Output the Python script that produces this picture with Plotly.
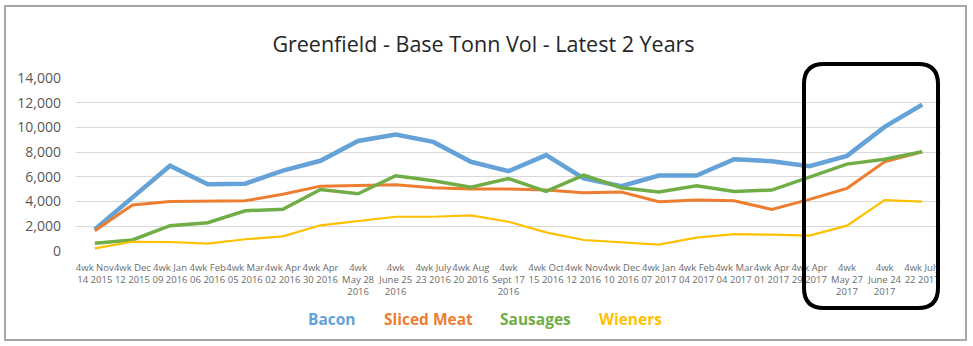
import plotly.graph_objects as go

# ---------------- data ----------------
periods = [
    "4wk Nov<br>14 2015", "4wk Dec<br>12 2015", "4wk Jan<br>09 2016", "4wk Feb<br>06 2016",
    "4wk Mar<br>05 2016", "4wk Apr<br>02 2016", "4wk Apr<br>30 2016", "4wk<br>May 28<br>2016",
    "4wk<br>June 25<br>2016", "4wk July<br>23 2016", "4wk Aug<br>20 2016", "4wk<br>Sept 17<br>2016",
    "4wk Oct<br>15 2016", "4wk Nov<br>12 2016", "4wk Dec<br>10 2016", "4wk Jan<br>07 2017",
    "4wk Feb<br>04 2017", "4wk Mar<br>04 2017", "4wk Apr<br>01 2017", "4wk Apr<br>29 2017",
    "4wk<br>May 27<br>2017", "4wk<br>June 24<br>2017", "4wk July<br>22 2017",
]

bacon = [1750, 4350, 6900, 5400, 5450, 6500, 7300, 8900, 9430, 8830, 7220, 6460,
         7760, 5870, 5250, 6110, 6110, 7430, 7270, 6870, 7700, 10040, 11850]
sliced_meat = [1640, 3720, 4010, 4010, 4060, 4600, 5250, 5300, 5360, 5120, 5010, 5010,
               4930, 4710, 4770, 3990, 4120, 4060, 3370, 4180, 5070, 7220, 8030]
sausages = [620, 890, 2050, 2290, 3260, 3370, 4980, 4630, 6090, 5680, 5170, 5870,
            4820, 6140, 5120, 4770, 5280, 4820, 4930, 6010, 7030, 7430, 8030]
wieners = [215, 750, 730, 590, 950, 1190, 2080, 2400, 2770, 2770, 2880, 2370,
           1510, 890, 700, 510, 1080, 1370, 1320, 1240, 2050, 4120, 3990]

series_names = ["Bacon", "Sliced Meat", "Sausages", "Wieners"]
y_ticks = [0, 2000, 4000, 6000, 8000, 10000, 12000, 14000]

# ---------------- styling ----------------
W, H = 973, 346
L, R, T, B = 76, 32, 78, 95
PW, PH = W - L - R, H - T - B
colors = ["#64A2D8", "#ED7D31", "#70AD47", "#FFC000"]
widths = [4.5, 3, 3.5, 2.2]
FONT = "Open Sans"


def px(x):
    return (x - L) / PW


def py(y):
    return (H - B - y) / PH


fig = go.Figure()
for name, vals, c, w in zip(series_names, [bacon, sliced_meat, sausages, wieners], colors, widths):
    fig.add_trace(go.Scatter(x=list(range(len(periods))), y=vals, name=name, mode="lines",
                             line=dict(color=c, width=w), showlegend=False))

fig.update_layout(
    width=W, height=H,
    margin=dict(l=L, r=R, t=T, b=B),
    paper_bgcolor="white", plot_bgcolor="white",
    font=dict(family=FONT, color="#595959"),
    title=dict(text="Greenfield - Base Tonn Vol - Latest 2 Years",
               x=483.5 / W, xref="container", xanchor="center",
               y=1 - 44 / H, yref="container", yanchor="middle",
               font=dict(family=FONT, size=21.5, color="#262626")),
)

fig.update_xaxes(
    range=[-0.5, len(periods) - 0.5],
    tickmode="array", tickvals=list(range(len(periods))), ticktext=periods,
    tickangle=0, tickfont=dict(size=9.5, color="#6B6B6B", family=FONT),
    showgrid=False, zeroline=False, showline=False, ticks="",
    ticklabelstandoff=9,
)
fig.update_yaxes(
    range=[0, 14000], tickmode="array", tickvals=y_ticks,
    ticktext=[f"{v:,}" for v in y_ticks],
    tickfont=dict(size=14, color="#595959", family=FONT),
    showgrid=True, gridcolor="#D9D9D9", gridwidth=1,
    zeroline=False, showline=False, ticks="", ticklabelstandoff=14,
)

# legend as coloured text
legend_centers = [332, 428, 535.5, 630]
for name, c, xc in zip(series_names, colors, legend_centers):
    fig.add_annotation(text=f"<b>{name}</b>", x=px(xc), y=py(319), xref="paper", yref="paper",
                       showarrow=False, xanchor="center", yanchor="middle",
                       font=dict(family=FONT, size=15.5, color=c))

# outer chart frame
fig.add_shape(type="rect", xref="paper", yref="paper",
              x0=px(5), x1=px(966), y0=py(340), y1=py(6),
              line=dict(color="#A6A6A6", width=2), layer="above")

# black rounded highlight box
x0, x1, y0, y1, r = 804, 938, 64, 308, 20
pts = [
    ("M", x0 + r, y0), ("L", x1 - r, y0), ("Q", x1, y0, x1, y0 + r),
    ("L", x1, y1 - r), ("Q", x1, y1, x1 - r, y1), ("L", x0 + r, y1),
    ("Q", x0, y1, x0, y1 - r), ("L", x0, y0 + r), ("Q", x0, y0, x0 + r, y0),
]
path = ""
for p in pts:
    cmd, coords = p[0], p[1:]
    s = " ".join(f"{px(coords[i]):.5f},{py(coords[i + 1]):.5f}" for i in range(0, len(coords), 2))
    path += f"{cmd} {s} "
path += "Z"
fig.add_shape(type="path", path=path, xref="paper", yref="paper",
              line=dict(color="black", width=4), layer="above")

fig.write_html("out.html")
